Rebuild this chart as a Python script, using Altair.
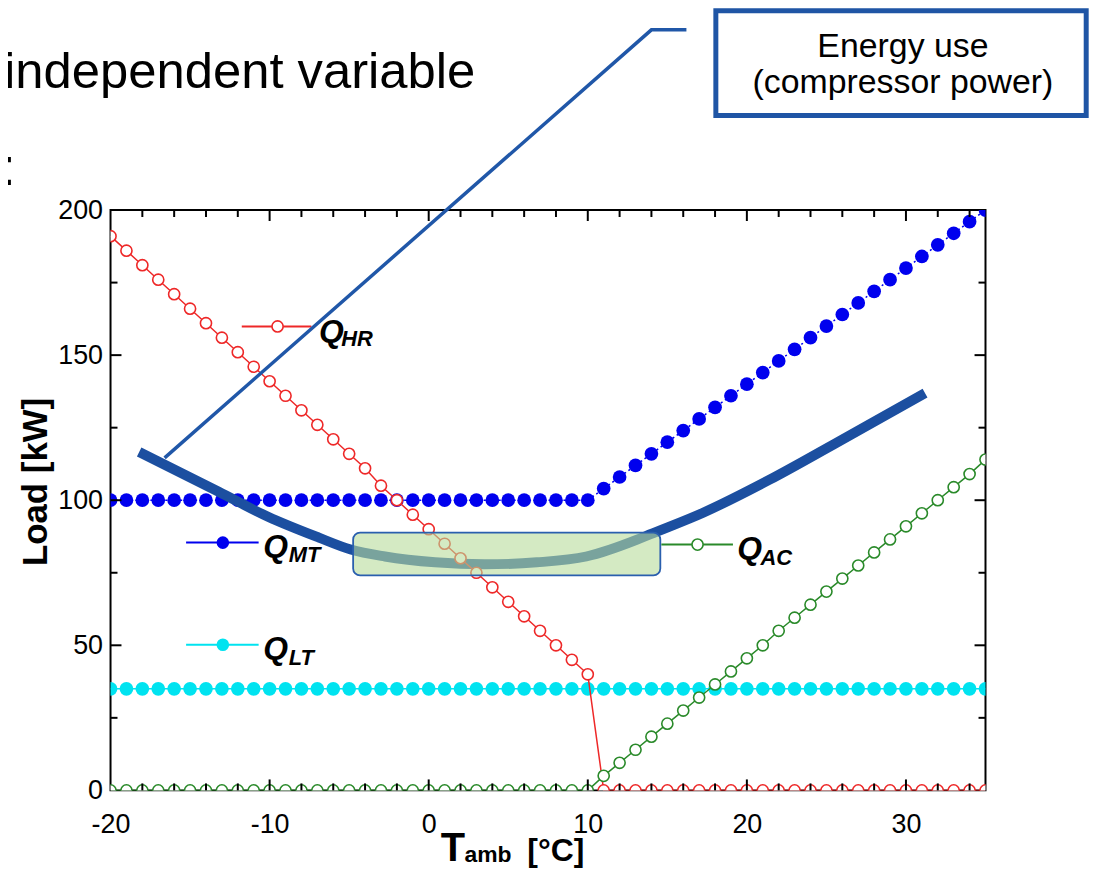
import altair as alt
import pandas as pd

# ---------------- data ----------------
T = list(range(-20, 36))
Q_HR = [191, 186, 181, 176, 171, 166, 161, 156, 151, 146, 141, 136, 131, 126, 121,
        116, 111, 105, 100, 95, 90, 85, 80, 75, 70, 65, 60, 55, 50, 45, 40] + [0] * 25
Q_MT = [100] * 31 + [104, 108, 112, 116, 120, 124, 128, 132, 136, 140, 144, 148, 152,
                     156, 160, 164, 168, 172, 176, 180, 184, 188, 192, 196, 200]
Q_LT = [35] * 56
Q_AC = [0] * 31 + [5, 9.5, 14, 18.5, 23, 27.5, 32, 36.5, 41, 45.5, 50, 55, 59.5, 64,
                   68.5, 73, 77.5, 82, 86.5, 91, 95.5, 100, 104.5, 109, 114]

# sketched energy-use curve (overlay)
E_T = [-18.2, -13.2, -10.1, -6.9, -4.9, -2.75, 0.4, 3.5, 6.8, 9.9, 13.1, 13.9, 17.25, 21.4, 25.6, 31.2]
E_P = [116.6, 102.9, 94.3, 87.1, 83.0, 80.6, 78.6, 77.9, 78.6, 80.6, 86.4, 88.2, 95.7, 107.0, 119.7, 136.9]

# leader line to the call-out box
L_T = [-16.6, 14.0, 16.2]
L_P = [114.6, 262.1, 262.1]

# highlight box and call-out box (data coordinates)
HB = dict(x=-4.75, x2=14.56, y=74.1, y2=88.85)
CB = dict(x=18.05, x2=41.33, y=232.6, y2=268.7)

X_LABELS = [-20, -10, 0, 10, 20, 30]
Y_LABELS = [0, 50, 100, 150, 200]
X_MAJOR = [-10, 0, 10, 20, 30]
X_MINOR = [-18, -16, -14, -12, -8, -6, -4, -2, 2, 4, 6, 8, 12, 14, 16, 18, 22, 24, 26, 28, 32, 34]
Y_MAJOR = [50, 100, 150]
Y_MINOR = [25, 75, 125, 175]

W, H = 879, 583
xs = alt.Scale(domain=[-20, 35], nice=False, zero=False)
ys = alt.Scale(domain=[0, 200], nice=False, zero=False)
FONT = "Liberation Sans"

RED, BLUE, CYAN, GREEN = "#ee2828", "#0000ee", "#00e3f0", "#2a8a2a"
NAVY = "#1c4fa0"

AX = alt.Axis(values=X_LABELS, labelExpr="'' + datum.value", title=None,
              ticks=False, tickSize=0, domain=False, grid=False,
              labelFont=FONT, labelFontSize=27, labelColor="black",
              labelPadding=21, labelFlush=False, labelOverlap=False)
AY = alt.Axis(values=Y_LABELS, labelExpr="'' + datum.value", title=None,
              ticks=False, tickSize=0, domain=False, grid=False,
              labelFont=FONT, labelFontSize=27, labelColor="black",
              labelPadding=8, labelFlush=False, labelOverlap=False)


def X(f="x"):
    return alt.X(f"{f}:Q", scale=xs, axis=AX)


def Y(f="y"):
    return alt.Y(f"{f}:Q", scale=ys, axis=AY)


def series_layers(vals, color, filled, size, dash=None):
    df = pd.DataFrame({"x": T, "y": vals})
    line_kw = dict(color=color, strokeWidth=1.5, clip=True)
    if dash:
        line_kw["strokeDash"] = dash
    ln = alt.Chart(df).mark_line(**line_kw).encode(x=X(), y=Y())
    if filled:
        pt = alt.Chart(df).mark_point(shape="circle", filled=True, color=color, size=size,
                                      opacity=1, clip=True).encode(x=X(), y=Y())
    else:
        pt = alt.Chart(df).mark_point(shape="circle", filled=False, stroke=color, fill="white",
                                      fillOpacity=1, strokeWidth=1.6, size=size, opacity=1,
                                      clip=True).encode(x=X(), y=Y())
    return [ln, pt]


# inward ticks
def xticks(vals, length):
    d = pd.DataFrame({"x": vals})
    top = alt.Chart(d).mark_rule(color="black", strokeWidth=2).encode(
        x=X(), y=alt.value(0), y2=alt.value(length))
    bot = alt.Chart(d).mark_rule(color="black", strokeWidth=2).encode(
        x=X(), y=alt.value(H), y2=alt.value(H - length))
    return [top, bot]


def yticks(vals, length):
    d = pd.DataFrame({"y": vals})
    left = alt.Chart(d).mark_rule(color="black", strokeWidth=2).encode(
        y=Y(), x=alt.value(0), x2=alt.value(length))
    right = alt.Chart(d).mark_rule(color="black", strokeWidth=2).encode(
        y=Y(), x=alt.value(W), x2=alt.value(W - length))
    return [left, right]


ticks = xticks(X_MAJOR, 11) + xticks(X_MINOR, 7) + yticks(Y_MAJOR, 11) + yticks(Y_MINOR, 7)

blue = series_layers(Q_MT, BLUE, True, 190, dash=[2, 3])
cyan = series_layers(Q_LT, CYAN, True, 190)
red = series_layers(Q_HR, RED, False, 125)
green = series_layers(Q_AC, GREEN, False, 125)

energy = alt.Chart(pd.DataFrame({"x": E_T, "y": E_P})).mark_line(
    color=NAVY, strokeWidth=10, interpolate="monotone", strokeCap="butt").encode(x=X(), y=Y())

leader = alt.Chart(pd.DataFrame({"x": L_T, "y": L_P, "o": [0, 1, 2]})).mark_line(
    color="#2057a8", strokeWidth=3.5).encode(x=X(), y=Y(), order="o:Q")

hbox = alt.Chart(pd.DataFrame([HB])).mark_rect(
    fill="#b8dc9b", fillOpacity=0.6, stroke="#2a5fae", strokeWidth=1.8, cornerRadius=7).encode(
    x=X(), x2="x2:Q", y=Y(), y2="y2:Q")

cbox = alt.Chart(pd.DataFrame([CB])).mark_rect(
    fill="white", stroke="#1f55a5", strokeWidth=5).encode(
    x=X(), x2="x2:Q", y=Y(), y2="y2:Q")

# legend (lines + markers + labels)
LEG_NAME = ["HR", "MT", "LT", "AC"]
LEG_X1 = [-11.75, -15.25, -15.25, 14.625]
LEG_X2 = [-7.375, -10.69, -10.69, 19.125]
LEG_XM = [-9.5, -12.94, -12.94, 16.9]
LEG_Y = [159.9, 85.4, 50.2, 84.7]
LEG_COL = [RED, BLUE, CYAN, GREEN]
LEG_QX = [-6.9, -10.4, -10.4, 19.4]
LEG_QY = [154.6, 80.6, 45.3, 79.6]
LEG_SX = [-5.5, -8.8, -8.8, 20.85]
LEG_SY = [153.3, 78.6, 43.3, 77.6]

legend = []
for i in range(4):
    d = pd.DataFrame({"x": [LEG_X1[i]], "x2": [LEG_X2[i]], "y": [LEG_Y[i]], "xm": [LEG_XM[i]]})
    legend.append(alt.Chart(d).mark_rule(color=LEG_COL[i], strokeWidth=2).encode(
        x=X(), x2="x2:Q", y=Y()))
    if i in (1, 2):
        legend.append(alt.Chart(d).mark_point(shape="circle", filled=True, color=LEG_COL[i],
                                              size=160, opacity=1).encode(x=X("xm"), y=Y()))
    else:
        legend.append(alt.Chart(d).mark_point(shape="circle", filled=False, stroke=LEG_COL[i],
                                              fill="white", fillOpacity=1, strokeWidth=1.6,
                                              size=125, opacity=1).encode(x=X("xm"), y=Y()))

qdf = pd.DataFrame({"x": LEG_QX, "y": LEG_QY, "t": ["Q"] * 4})
sdf = pd.DataFrame({"x": LEG_SX, "y": LEG_SY, "t": LEG_NAME})
legend.append(alt.Chart(qdf).mark_text(font=FONT, fontSize=32, fontWeight="bold", fontStyle="italic",
                                       align="left", baseline="alphabetic", color="black").encode(
    x=X(), y=Y(), text="t:N"))
legend.append(alt.Chart(sdf).mark_text(font=FONT, fontSize=22, fontWeight="bold", fontStyle="italic",
                                       align="left", baseline="alphabetic", color="black").encode(
    x=X(), y=Y(), text="t:N"))


# texts
def txt(xv, yv, s, **kw):
    base = dict(align="left", baseline="alphabetic", color="black")
    base.update(kw)
    return alt.Chart(pd.DataFrame({"x": [xv], "y": [yv], "t": [s]})).mark_text(**base).encode(
        x=X(), y=Y(), text="t:N")


texts = [
    txt(-26.69, 242.2, "independent variable", font=FONT, fontSize=51),
    txt(-26.875, 208.6, ":", font=FONT, fontSize=52),
    txt(29.81, 252.8, "Energy use", font=FONT, fontSize=34, align="center"),
    txt(29.81, 240.5, "(compressor power)", font=FONT, fontSize=34, align="center"),
    txt(0.75, -24.2, "T", font=FONT, fontSize=40, fontWeight="bold"),
    txt(2.25, -24.6, "amb", font=FONT, fontSize=23, fontWeight="bold"),
    txt(6.2, -24.2, "[°C]", font=FONT, fontSize=32, fontWeight="bold"),
    txt(-24.0, 106.3, "Load [kW]", font=FONT, fontSize=35, fontWeight="bold",
        align="center", angle=270),
]

layers = blue + cyan + [energy] + red + green + [hbox] + legend + ticks + [leader, cbox] + texts

chart = alt.layer(*layers).properties(
    width=W, height=H,
    autosize=alt.AutoSizeParams(type="none"),
    padding={"left": 103, "top": 201, "right": 108, "bottom": 77},
    background="white",
).configure_view(stroke="black", strokeWidth=2)

chart.save("out.html", embed_options={"renderer": "svg", "actions": False})
